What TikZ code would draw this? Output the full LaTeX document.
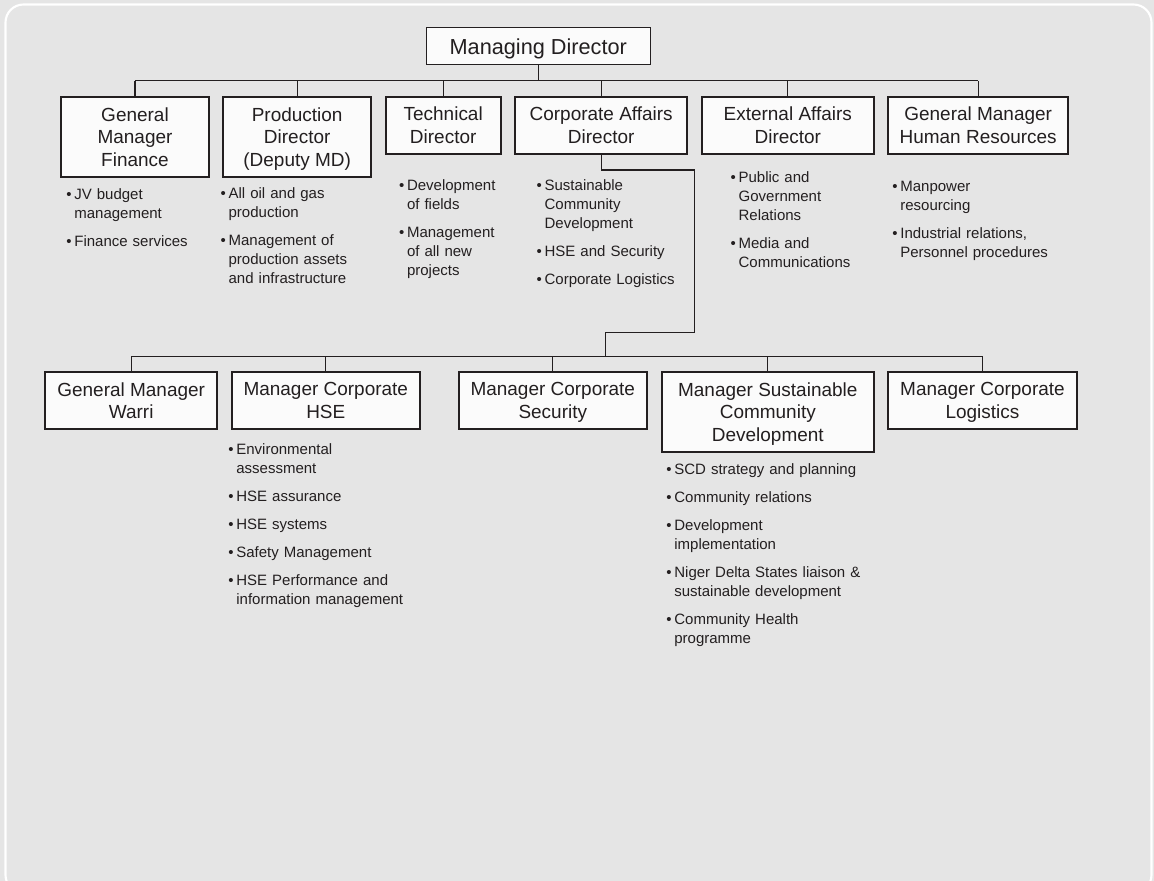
\documentclass[tikz,border=0pt]{standalone}
\usepackage{fontspec}
\setmainfont{Liberation Sans}
\usetikzlibrary{positioning, calc}

\definecolor{pagegray}{RGB}{229, 229, 229}
\definecolor{boxfill}{RGB}{251, 251, 251}
\definecolor{inkgray}{RGB}{35, 31, 32}

% bullet item with hanging indent
\newlength{\bulw}\setlength{\bulw}{4.55pt}
\newcommand{\itm}[1]{\parskip=5.1pt\hangindent=\bulw\hangafter=1\noindent\makebox[\bulw][l]{\textbullet}#1\par}

\tikzset{
  post/.style={draw=inkgray, line width=1.1pt, fill=boxfill, text=inkgray, inner sep=0pt,
    align=center, text depth=-2.5pt, font=\fontsize{10.8}{12.8}\selectfont},
  duties/.style={anchor=base west, inner sep=0pt, text width=5cm, align=left, text=inkgray,
    font=\fontsize{8.54}{10.8}\selectfont},
  link/.style={draw=inkgray, line width=0.6pt}
}

\begin{document}
\begin{tikzpicture}[x=0.02cm, y=-0.02cm]
  % Page (1 unit = 1 px of the reference)
  \useasboundingbox (0,0) rectangle (1154,881);
  \fill[pagegray] (0,0) rectangle (1154,881);
  \begin{scope}
    \clip (0,0) rectangle (1154,881);
    \draw[white, line width=1.2pt, rounded corners=0.36cm] (5.5,4.5) rectangle (1151.5,893);
  \end{scope}

  % Top level
  \node[post, line width=0.6pt, font=\fontsize{12.35}{14}\selectfont,
    minimum width=4.47cm, minimum height=0.75cm] (md) at (538.3,46.2) {Managing Director};

  % Directors
  \node[post, minimum width=2.96cm, minimum height=1.6cm] (fin) at (135,136.7) {General\\Manager\\Finance};
  \node[post, minimum width=2.95cm, minimum height=1.6cm] (prod) at (297.2,136.7) {Production\\Director\\(Deputy MD)};
  \node[post, minimum width=2.3cm, minimum height=1.15cm] (tech) at (443.2,125.3) {Technical\\Director};
  \node[post, minimum width=3.45cm, minimum height=1.15cm] (corp) at (601.2,125.3) {Corporate Affairs\\Director};
  \node[post, minimum width=3.45cm, minimum height=1.15cm] (ext) at (787.8,125.3) {External Affairs\\Director};
  \node[post, minimum width=3.61cm, minimum height=1.15cm] (hr) at (978.2,125.3) {General Manager\\Human Resources};

  % Managers under Corporate Affairs
  \node[post, minimum width=3.45cm, minimum height=1.15cm] (warri) at (131.2,400.5) {General Manager\\Warri};
  \node[post, minimum width=3.77cm, minimum height=1.15cm] (hse) at (325.8,400.5) {Manager Corporate\\HSE};
  \node[post, minimum width=3.75cm, minimum height=1.15cm] (sec) at (552.8,400.5) {Manager Corporate\\Security};
  \node[post, minimum width=4.25cm, minimum height=1.6cm] (scd) at (767.8,411.7) {Manager Sustainable\\Community\\Development};
  \node[post, minimum width=3.77cm, minimum height=1.15cm] (log) at (982.5,400.5) {Manager Corporate\\Logistics};

  % Duties
  \node[duties] (finduty) at (66,199.3) {\itm{JV budget\newline management}\itm{Finance services}};
  \node[duties] (produty) at (220.3,199) {\itm{All oil and gas\newline production}\itm{Management of\newline production assets\newline and infrastructure}};
  \node[duties] (techduty) at (398.7,190.7) {\itm{Development\newline of fields}\itm{Management\newline of all new\newline projects}};
  \node[duties] (corpduty) at (536.3,190.7) {\itm{Sustainable\newline Community\newline Development}\itm{HSE and Security}\itm{Corporate Logistics}};
  \node[duties] (extduty) at (730.3,182.7) {\itm{Public and\newline Government\newline Relations}\itm{Media and\newline Communications}};
  \node[duties] (hrduty) at (892,191.7) {\itm{Manpower\newline resourcing}\itm{Industrial relations,\newline Personnel procedures}};
  \node[duties] (hseduty) at (228,455) {\itm{Environmental\newline assessment}\itm{HSE assurance}\itm{HSE systems}\itm{Safety Management}\itm{HSE Performance and\newline information management}};
  \node[duties] (scdduty) at (666,475) {\itm{SCD strategy and planning}\itm{Community relations}\itm{Development\newline implementation}\itm{Niger Delta States liaison \&\newline sustainable development}\itm{Community Health\newline programme}};

  % Connectors
  \coordinate (bus) at (0,80.7);
  \coordinate (bus2) at (0,356.7);
  \coordinate (jog1) at (694.3,170);
  \coordinate (jog2) at (605.3,332.3);

  \draw[link] (md.south) -- (md.south |- bus);
  \draw[link] (fin.north |- bus) -- (hr.north |- bus);
  \foreach \n in {fin, prod, tech, corp, ext, hr}
    \draw[link] (\n.north) -- (\n.north |- bus);

  \draw[link] (corp.south) |- (jog1) |- (jog2) -- (jog2 |- bus2);
  \draw[link] (warri.north |- bus2) -- (log.north |- bus2);
  \foreach \n in {warri, hse, sec, scd, log}
    \draw[link] (\n.north) -- (\n.north |- bus2);
\end{tikzpicture}
\end{document}
